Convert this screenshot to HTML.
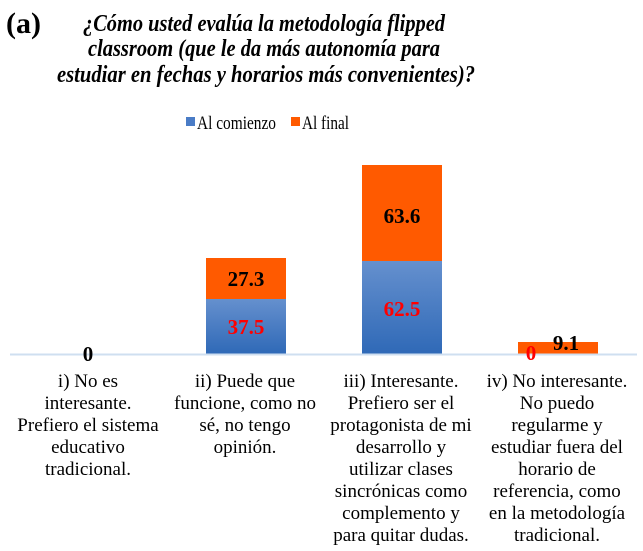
<!DOCTYPE html>
<html><head><meta charset="utf-8"><style>
body{margin:0;background:#fff}
svg{display:block}
</style></head><body>
<svg width="643" height="551" viewBox="0 0 643 551" xmlns="http://www.w3.org/2000/svg">
<defs>
<linearGradient id="bl" x1="0" y1="0" x2="0" y2="1">
<stop offset="0" stop-color="#6590ce"/><stop offset="1" stop-color="#2f69b7"/>
</linearGradient>
</defs>
<text x="6" y="33" font-family="Liberation Serif" font-weight="bold" font-size="30">(a)</text>
<g font-family="Liberation Serif" font-weight="bold" font-style="italic" font-size="24" text-anchor="middle">
<text x="264" y="31" textLength="362" lengthAdjust="spacingAndGlyphs">¿Cómo usted evalúa la metodología flipped</text>
<text x="264" y="56" textLength="352" lengthAdjust="spacingAndGlyphs">classroom (que le da más autonomía para</text>
<text x="266" y="82" textLength="418" lengthAdjust="spacingAndGlyphs">estudiar en fechas y horarios más convenientes)?</text>
</g>
<rect x="186" y="117" width="9" height="9" fill="#4a7cc6"/>
<text x="197" y="129" font-family="Liberation Serif" font-size="19" textLength="79" lengthAdjust="spacingAndGlyphs">Al comienzo</text>
<rect x="291" y="117" width="9" height="9" fill="#ff5a00"/>
<text x="302" y="129" font-family="Liberation Serif" font-size="19" textLength="47" lengthAdjust="spacingAndGlyphs">Al final</text>

<rect x="206" y="299" width="80" height="55" fill="url(#bl)"/>
<rect x="206" y="258" width="80" height="41" fill="#ff5a00"/>
<rect x="362" y="261" width="80" height="93" fill="url(#bl)"/>
<rect x="362" y="165" width="80" height="96" fill="#ff5a00"/>
<rect x="518" y="342" width="80" height="12" fill="#ff5a00"/>
<line x1="10" y1="354.5" x2="637" y2="354.5" stroke="#cfdff0" stroke-width="2"/>

<g font-family="Liberation Serif" font-weight="bold" font-size="21" text-anchor="middle">
<text x="246" y="286">27.3</text>
<text x="246" y="334" fill="#ff0000">37.5</text>
<text x="402" y="223">63.6</text>
<text x="402" y="316" fill="#ff0000">62.5</text>
<text x="566" y="350">9.1</text>
<text x="531" y="360" fill="#ff0000">0</text>
<text x="88" y="361">0</text>
</g>

<g font-family="Liberation Serif" font-size="19" text-anchor="middle">
<text x="88" y="387">i) No es</text>
<text x="88" y="409">interesante.</text>
<text x="88" y="431">Prefiero el sistema</text>
<text x="88" y="453">educativo</text>
<text x="88" y="475">tradicional.</text>

<text x="245" y="387">ii) Puede que</text>
<text x="245" y="409">funcione, como no</text>
<text x="245" y="431">sé, no tengo</text>
<text x="245" y="453">opinión.</text>

<text x="401" y="387">iii) Interesante.</text>
<text x="401" y="409">Prefiero ser el</text>
<text x="401" y="431">protagonista de mi</text>
<text x="401" y="453">desarrollo y</text>
<text x="401" y="475">utilizar clases</text>
<text x="401" y="497">sincrónicas como</text>
<text x="401" y="519">complemento y</text>
<text x="401" y="541">para quitar dudas.</text>

<text x="557" y="387">iv) No interesante.</text>
<text x="557" y="409">No puedo</text>
<text x="557" y="431">regularme y</text>
<text x="557" y="453">estudiar fuera del</text>
<text x="557" y="475">horario de</text>
<text x="557" y="497">referencia, como</text>
<text x="557" y="519">en la metodología</text>
<text x="557" y="541">tradicional.</text>
</g>
</svg>
</body></html>
